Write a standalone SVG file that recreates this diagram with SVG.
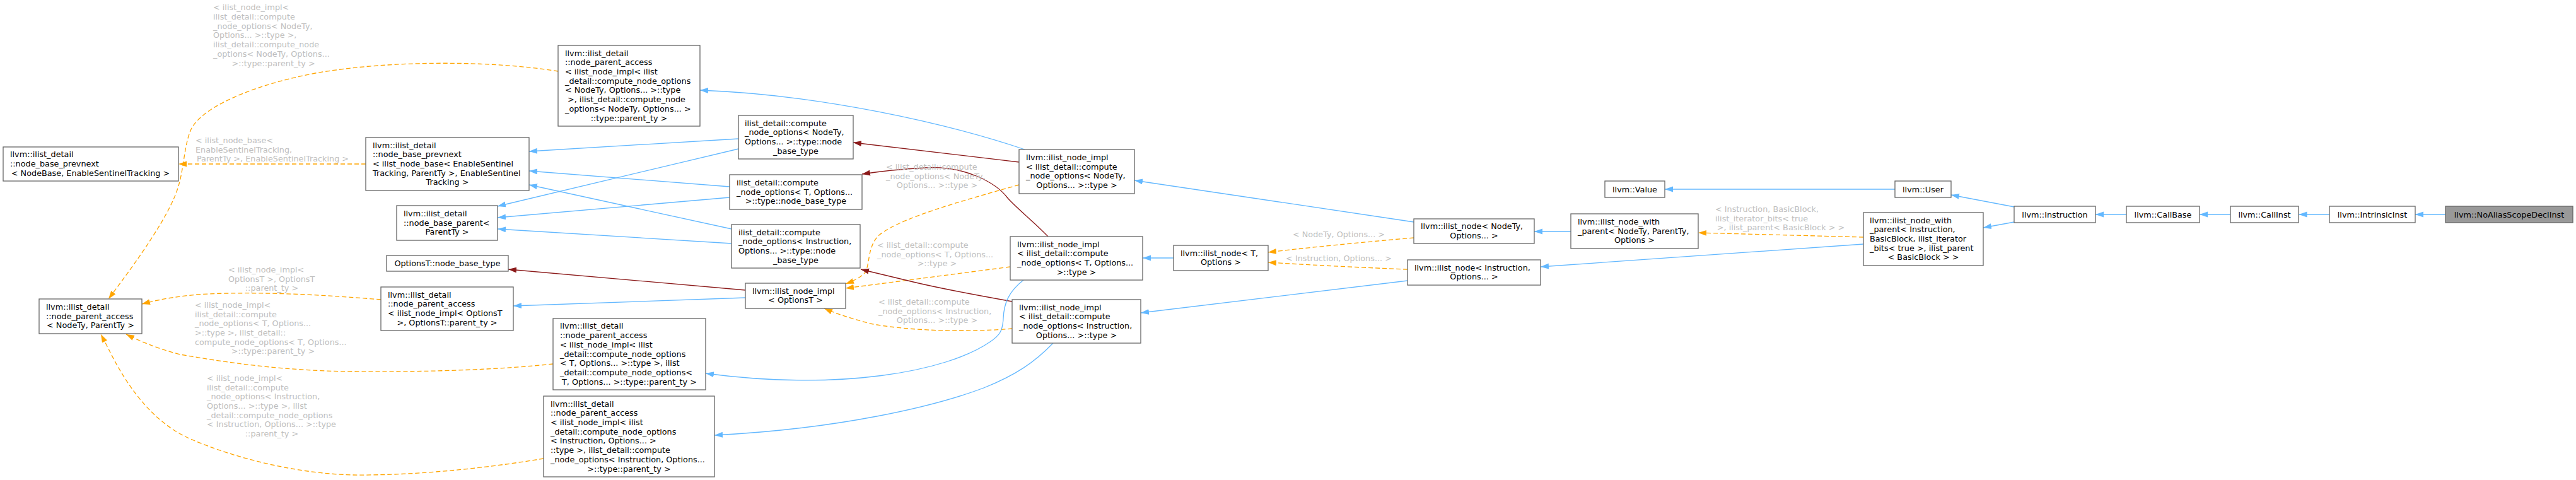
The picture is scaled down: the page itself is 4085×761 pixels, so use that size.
<svg xmlns="http://www.w3.org/2000/svg" width="4085" height="761" viewBox="0 0 4085 761">
<style>
text{font-family:"DejaVu Sans","Liberation Sans",sans-serif;font-size:12.8px;fill:#000}
.l{fill:#bebebe}
.m{text-anchor:middle}
rect{fill:#fff;stroke:#666;stroke-width:1.3}
rect.h{fill:#999}
.e{fill:none;stroke-width:1.3}
.b{stroke:#63b8ff;marker-end:url(#ab)}
.r{stroke:#8b1a1a;marker-end:url(#ar)}
.o{stroke:#ffa500;stroke-dasharray:7,4;marker-end:url(#ao)}
</style>
<defs>
<marker id="ab" markerUnits="userSpaceOnUse" markerWidth="14" markerHeight="10" refX="13" refY="4.5" orient="auto"><path d="M0,0 L13,4.5 L0,9 Z" fill="#63b8ff"/></marker>
<marker id="ar" markerUnits="userSpaceOnUse" markerWidth="14" markerHeight="10" refX="13" refY="4.5" orient="auto"><path d="M0,0 L13,4.5 L0,9 Z" fill="#8b1a1a"/></marker>
<marker id="ao" markerUnits="userSpaceOnUse" markerWidth="14" markerHeight="10" refX="13" refY="4.5" orient="auto"><path d="M0,0 L13,4.5 L0,9 Z" fill="#ffa500"/></marker>
</defs>
<rect x="0" y="0" width="4085" height="761" style="fill:#fff;stroke:none"/>
<g id="edges">
<path class="e b" d="M3878,340 L3830,340"/>
<path class="e b" d="M3694,340 L3645.5,340"/>
<path class="e b" d="M3537,340 L3488,340"/>
<path class="e b" d="M3372,340 L3323,340"/>
<path class="e b" d="M3194,328 L3094,309"/>
<path class="e b" d="M3194,352 L3145,361"/>
<path class="e b" d="M3005,300 L2640,300"/>
<path class="e o" d="M2955,376 L2693,369"/>
<path class="e b" d="M2955,387 L2443,423"/>
<path class="e b" d="M2491,367 L2433,367"/>
<path class="e o" d="M2242,377 C2160,384 2060,394 2011,400"/>
<path class="e o" d="M2232,427 C2150,424 2060,419 2011,416"/>
<path class="e b" d="M1861,409 L1812,409"/>
<path class="e b" d="M2242,352 L1799,286"/>
<path class="e b" d="M2232,445 L1809,496"/>
<path class="e b" d="M1625,237 C1500,195 1300,150 1110,143"/>
<path class="e r" d="M1616,257 L1353,226"/>
<path class="e r" d="M1662,375 C1640,352 1612,330 1598,314 C1580,290 1530,262 1467,266 C1430,268 1400,271 1367,276"/>
<path class="e o" d="M1616,293 C1520,320 1430,345 1395,372 C1375,390 1380,418 1372,432 C1365,440 1352,446 1341,450"/>
<path class="e o" d="M1602,423 L1341,457"/>
<path class="e o" d="M1605,521 C1540,527 1440,525 1380,513 C1350,505 1325,497 1307,489"/>
<path class="e r" d="M1182,460 L806,427"/>
<path class="e b" d="M1182,472 L814,485"/>
<path class="e r" d="M1605,478 C1560,470 1480,455 1440,445 C1410,438 1385,432 1365,427"/>
<path class="e b" d="M1623,444 C1600,462 1592,480 1591,505 C1590,525 1585,532 1570,542 C1500,590 1330,620 1119,592"/>
<path class="e b" d="M1670,544 C1640,575 1610,595 1560,615 C1480,645 1330,680 1133,690"/>
<path class="e b" d="M1171,220 L839,240"/>
<path class="e b" d="M1171,236 L789,327"/>
<path class="e b" d="M1157,296 L839,271"/>
<path class="e b" d="M1157,313 L789,345"/>
<path class="e b" d="M1160,363 L839,293"/>
<path class="e b" d="M1160,386 L789,363"/>
<path class="e o" d="M604,475 C520,468 420,462 330,466 C290,468 255,474 225,482"/>
<path class="e o" d="M877,577 C800,585 700,590 560,589 C450,588 360,575 286,562 C250,553 220,540 200,530"/>
<path class="e o" d="M862,727 C760,744 650,754 560,753 C470,751 370,726 300,695 C240,668 200,610 172,553 L160,530"/>
<path class="e o" d="M885,113 C780,96 620,95 500,116 C400,135 320,170 303,205 C292,230 292,265 283,295 C270,340 220,410 172,474"/>
<path class="e o" d="M580,260 L283,260"/>
<text class="l" x="338" y="16.3">&lt; ilist_node_impl&lt;</text>
<text class="l" x="338" y="31">ilist_detail::compute</text>
<text class="l" x="338" y="45.7">_node_options&lt; NodeTy,</text>
<text class="l" x="338" y="60.4">Options... &gt;::type &gt;,</text>
<text class="l" x="338" y="75.1">ilist_detail::compute_node</text>
<text class="l" x="338" y="89.8">_options&lt; NodeTy, Options...</text>
<text class="l m" x="433.6" y="104.5">&gt;::type::parent_ty &gt;</text>
<text class="l" x="310" y="226.8">&lt; ilist_node_base&lt;</text>
<text class="l" x="310" y="241.5">EnableSentinelTracking,</text>
<text class="l m" x="432.5" y="256.2">ParentTy &gt;, EnableSentinelTracking &gt;</text>
<text class="l" x="362" y="432">&lt; ilist_node_impl&lt;</text>
<text class="l" x="362" y="446.7">OptionsT &gt;, OptionsT</text>
<text class="l m" x="431" y="461.4">::parent_ty &gt;</text>
<text class="l" x="309" y="487.8">&lt; ilist_node_impl&lt;</text>
<text class="l" x="309" y="502.5">ilist_detail::compute</text>
<text class="l" x="309" y="517.2">_node_options&lt; T, Options...</text>
<text class="l" x="309" y="531.9">&gt;::type &gt;, ilist_detail::</text>
<text class="l" x="309" y="546.6">compute_node_options&lt; T, Options...</text>
<text class="l m" x="433" y="561.3">&gt;::type::parent_ty &gt;</text>
<text class="l" x="328" y="603.8">&lt; ilist_node_impl&lt;</text>
<text class="l" x="328" y="618.5">ilist_detail::compute</text>
<text class="l" x="328" y="633.2">_node_options&lt; Instruction,</text>
<text class="l" x="328" y="647.9">Options... &gt;::type &gt;, ilist</text>
<text class="l" x="328" y="662.6">_detail::compute_node_options</text>
<text class="l" x="328" y="677.3">&lt; Instruction, Options... &gt;::type</text>
<text class="l m" x="431" y="692">::parent_ty &gt;</text>
<text class="l" x="1405" y="269">&lt; ilist_detail::compute</text>
<text class="l" x="1405" y="283.7">_node_options&lt; NodeTy,</text>
<text class="l m" x="1486" y="298.4">Options... &gt;::type &gt;</text>
<text class="l" x="1391" y="392.8">&lt; ilist_detail::compute</text>
<text class="l" x="1391" y="407.5">_node_options&lt; T, Options...</text>
<text class="l m" x="1486" y="422.2">&gt;::type &gt;</text>
<text class="l" x="1393" y="482.8">&lt; ilist_detail::compute</text>
<text class="l" x="1393" y="497.5">_node_options&lt; Instruction,</text>
<text class="l m" x="1486" y="512.2">Options... &gt;::type &gt;</text>
<text class="l" x="2720" y="336">&lt; Instruction, BasicBlock,</text>
<text class="l" x="2720" y="350.7">ilist_iterator_bits&lt; true</text>
<text class="l m" x="2824" y="365.4">&gt;, ilist_parent&lt; BasicBlock &gt; &gt;</text>
<text class="l m" x="2123" y="376">&lt; NodeTy, Options... &gt;</text>
<text class="l m" x="2123" y="413.5">&lt; Instruction, Options... &gt;</text>
</g>
<g id="n1"><rect x="5" y="233" width="278" height="54"/>
<text x="16" y="249.3">llvm::ilist_detail</text><text x="16" y="264">::node_base_prevnext</text><text class="m" x="143.5" y="278.7">&lt; NodeBase, EnableSentinelTracking &gt;</text></g>
<g id="n2"><rect x="62" y="474" width="163" height="55"/>
<text x="73" y="490.8">llvm::ilist_detail</text><text x="73" y="505.5">::node_parent_access</text><text class="m" x="143.5" y="520.2">&lt; NodeTy, ParentTy &gt;</text></g>
<g id="n3"><rect x="885" y="72" width="225" height="128"/>
<text x="896" y="88.6">llvm::ilist_detail</text><text x="896" y="103.3">::node_parent_access</text><text x="896" y="118">&lt; ilist_node_impl&lt; ilist</text><text x="896" y="132.7">_detail::compute_node_options</text><text x="896" y="147.4">&lt; NodeTy, Options... &gt;::type</text><text x="900" y="162.1">&gt;, ilist_detail::compute_node</text><text x="896" y="176.8">_options&lt; NodeTy, Options... &gt;</text><text class="m" x="997.5" y="191.5">::type::parent_ty &gt;</text></g>
<g id="n4"><rect x="580" y="218" width="259" height="84"/>
<text x="591" y="234.6">llvm::ilist_detail</text><text x="591" y="249.3">::node_base_prevnext</text><text x="591" y="264">&lt; ilist_node_base&lt; EnableSentinel</text><text x="591" y="278.7">Tracking, ParentTy &gt;, EnableSentinel</text><text class="m" x="709.5" y="293.4">Tracking &gt;</text></g>
<g id="n5"><rect x="629" y="326" width="160" height="55"/>
<text x="640" y="342.8">llvm::ilist_detail</text><text x="640" y="357.5">::node_base_parent&lt;</text><text class="m" x="709" y="372.2">ParentTy &gt;</text></g>
<g id="n6"><rect x="613" y="405" width="193" height="25"/>
<text class="m" x="709.5" y="421.5">OptionsT::node_base_type</text></g>
<g id="n7"><rect x="604" y="455" width="210" height="69"/>
<text x="615" y="471.5">llvm::ilist_detail</text><text x="615" y="486.2">::node_parent_access</text><text x="615" y="500.9">&lt; ilist_node_impl&lt; OptionsT</text><text class="m" x="709" y="515.6">&gt;, OptionsT::parent_ty &gt;</text></g>
<g id="n8"><rect x="877" y="505" width="242" height="113"/>
<text x="888" y="521.4">llvm::ilist_detail</text><text x="888" y="536.1">::node_parent_access</text><text x="888" y="550.8">&lt; ilist_node_impl&lt; ilist</text><text x="888" y="565.5">_detail::compute_node_options</text><text x="888" y="580.2">&lt; T, Options... &gt;::type &gt;, ilist</text><text x="888" y="594.9">_detail::compute_node_options&lt;</text><text class="m" x="998" y="609.6">T, Options... &gt;::type::parent_ty &gt;</text></g>
<g id="n9"><rect x="862" y="628" width="271" height="128"/>
<text x="873" y="644.6">llvm::ilist_detail</text><text x="873" y="659.3">::node_parent_access</text><text x="873" y="674">&lt; ilist_node_impl&lt; ilist</text><text x="873" y="688.7">_detail::compute_node_options</text><text x="873" y="703.4">&lt; Instruction, Options... &gt;</text><text x="873" y="718.1">::type &gt;, ilist_detail::compute</text><text x="873" y="732.8">_node_options&lt; Instruction, Options...</text><text class="m" x="997.5" y="747.5">&gt;::type::parent_ty &gt;</text></g>
<g id="n10"><rect x="1171" y="183" width="182" height="69"/>
<text x="1181" y="199.5">ilist_detail::compute</text><text x="1181" y="214.2">_node_options&lt; NodeTy,</text><text x="1181" y="228.9">Options... &gt;::type::node</text><text class="m" x="1262" y="243.6">_base_type</text></g>
<g id="n11"><rect x="1157" y="277" width="210" height="55"/>
<text x="1168" y="293.8">ilist_detail::compute</text><text x="1168" y="308.5">_node_options&lt; T, Options...</text><text class="m" x="1262" y="323.2">&gt;::type::node_base_type</text></g>
<g id="n12"><rect x="1160" y="356" width="204" height="69"/>
<text x="1171" y="372.5">ilist_detail::compute</text><text x="1171" y="387.2">_node_options&lt; Instruction,</text><text x="1171" y="401.9">Options... &gt;::type::node</text><text class="m" x="1262" y="416.6">_base_type</text></g>
<g id="n13"><rect x="1182" y="449" width="159" height="40"/>
<text x="1193" y="465.7">llvm::ilist_node_impl</text><text class="m" x="1261.5" y="480.4">&lt; OptionsT &gt;</text></g>
<g id="n14"><rect x="1616" y="237" width="183" height="70"/>
<text x="1627" y="254">llvm::ilist_node_impl</text><text x="1627" y="268.7">&lt; ilist_detail::compute</text><text x="1627" y="283.4">_node_options&lt; NodeTy,</text><text class="m" x="1707.5" y="298.1">Options... &gt;::type &gt;</text></g>
<g id="n15"><rect x="1602" y="375" width="210" height="69"/>
<text x="1613" y="391.5">llvm::ilist_node_impl</text><text x="1613" y="406.2">&lt; ilist_detail::compute</text><text x="1613" y="420.9">_node_options&lt; T, Options...</text><text class="m" x="1707" y="435.6">&gt;::type &gt;</text></g>
<g id="n16"><rect x="1605" y="475" width="204" height="69"/>
<text x="1616" y="491.5">llvm::ilist_node_impl</text><text x="1616" y="506.2">&lt; ilist_detail::compute</text><text x="1616" y="520.9">_node_options&lt; Instruction,</text><text class="m" x="1707" y="535.6">Options... &gt;::type &gt;</text></g>
<g id="n17"><rect x="2242" y="347" width="191" height="39"/>
<text x="2253" y="363.2">llvm::ilist_node&lt; NodeTy,</text><text class="m" x="2337.5" y="377.9">Options... &gt;</text></g>
<g id="n18"><rect x="1861" y="389" width="150" height="40"/>
<text x="1872" y="405.7">llvm::ilist_node&lt; T,</text><text class="m" x="1936" y="420.4">Options &gt;</text></g>
<g id="n19"><rect x="2232" y="412" width="211" height="40"/>
<text x="2243" y="428.7">llvm::ilist_node&lt; Instruction,</text><text class="m" x="2337.5" y="443.4">Options... &gt;</text></g>
<g id="n20"><rect x="2545" y="287" width="95" height="26"/>
<text class="m" x="2592.5" y="304.5">llvm::Value</text></g>
<g id="n21"><rect x="2491" y="339" width="202" height="55"/>
<text x="2502" y="355.8">llvm::ilist_node_with</text><text x="2502" y="370.5">_parent&lt; NodeTy, ParentTy,</text><text class="m" x="2592" y="385.2">Options &gt;</text></g>
<g id="n22"><rect x="3005" y="287" width="89" height="26"/>
<text class="m" x="3049.5" y="304.5">llvm::User</text></g>
<g id="n23"><rect x="2955" y="337" width="190" height="84"/>
<text x="2965" y="353.6">llvm::ilist_node_with</text><text x="2965" y="368.3">_parent&lt; Instruction,</text><text x="2965" y="383">BasicBlock, ilist_iterator</text><text x="2965" y="397.7">_bits&lt; true &gt;, ilist_parent</text><text class="m" x="3050" y="412.4">&lt; BasicBlock &gt; &gt;</text></g>
<g id="n24"><rect x="3194" y="327" width="129" height="26"/>
<text class="m" x="3258.5" y="344.5">llvm::Instruction</text></g>
<g id="n25"><rect x="3372" y="327" width="116" height="26"/>
<text class="m" x="3430" y="344.5">llvm::CallBase</text></g>
<g id="n26"><rect x="3537" y="327" width="108" height="26"/>
<text class="m" x="3591" y="344.5">llvm::CallInst</text></g>
<g id="n27"><rect x="3694" y="327" width="136" height="26"/>
<text class="m" x="3762" y="344.5">llvm::IntrinsicInst</text></g>
<g id="n28"><rect class="h" x="3878" y="327" width="202" height="26"/>
<text class="m" x="3979" y="344.5">llvm::NoAliasScopeDeclInst</text></g>
</svg>
